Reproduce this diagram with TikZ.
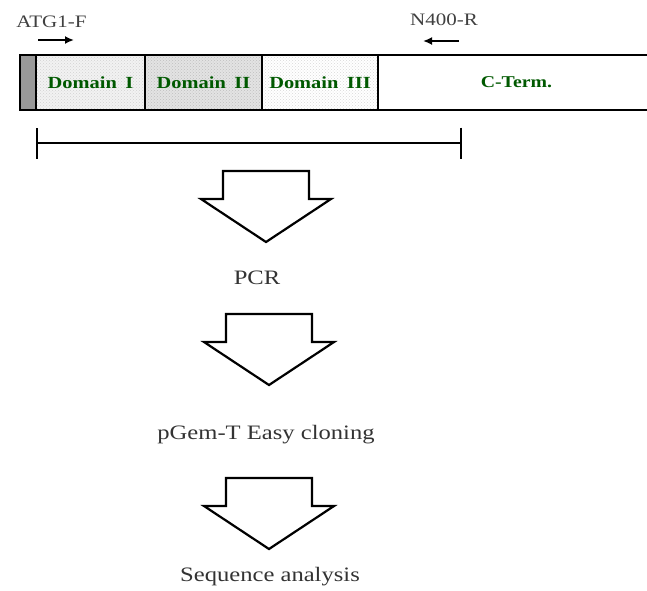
\documentclass[tikz,border=0pt]{standalone}
\usepackage{fontspec}
\setmainfont{Liberation Serif}[FakeStretch=1.2]
\usetikzlibrary{arrows.meta,patterns}

\tikzset{
    segment/.style={draw, line width=2.4pt, minimum height=55pt, inner sep=0pt,
        font=\bfseries\fontsize{17}{20}\selectfont, text=green!35!black},
    primer/.style={font=\fontsize{17.5}{20}\selectfont, text=black!75},
    primerarrow/.style={line width=2.2pt, -{Latex[length=9pt,width=8pt]}},
    step label/.style={font=\fontsize{20.5}{24}\selectfont, text=black!80},
    pics/blockarrow/.style={code={
        \draw[line width=2.2pt, fill=white] (-43,0) -- (43,0) -- (43,28) -- (65,28)
            -- (0,71) -- (-65,28) -- (-43,28) -- cycle;
    }}
}

\begin{document}
\begin{tikzpicture}[x=1pt, y=-1pt]
    \useasboundingbox (0,0) rectangle (647,590);
    % Gene bar with its domains
    \node[segment, minimum width=16pt, fill=gray!80] (lead) at (28,82.5) {};
    \node[segment, minimum width=109pt, preaction={fill=gray!10}, pattern=crosshatch dots, pattern color=gray!35] (dom1) at (90.5,82.5) {Domain\enspace I};
    \node[segment, minimum width=117pt, preaction={fill=gray!22}, pattern=crosshatch dots, pattern color=gray!50] (dom2) at (203.5,82.5) {Domain\enspace II};
    \node[segment, minimum width=116pt, preaction={fill=white}, pattern=crosshatch dots, pattern color=gray!30] (dom3) at (320,82.5) {Domain\enspace III};
    \node[segment, minimum width=277pt, fill=white, font=\bfseries\fontsize{16.5}{20}\selectfont] (cterm) at (516.5,82.5) {C-Term.};

    % Primers
    \node[primer] (fwd) at (51.5,22) {ATG1-F};
    \node[primer] (rev) at (444,20) {N400-R};
    \coordinate (fwdtail) at (38,40);
    \coordinate (fwdhead) at (74,40);
    \coordinate (revtail) at (459,41);
    \coordinate (revhead) at (423,41);
    \draw[primerarrow] (fwdtail) -- (fwdhead);
    \draw[primerarrow] (revtail) -- (revhead);

    % Amplified region
    \coordinate (ampstart) at (36,143);
    \coordinate (ampend) at (462,143);
    \draw[line width=2.2pt, {Bar[width=31pt]}-{Bar[width=31pt]}] (ampstart) -- (ampend);

    % Workflow
    \pic (arrowpcr) at (266,171) {blockarrow};
    \node[step label] (pcr) at (257,278) {PCR};
    \pic (arrowclone) at (269,314) {blockarrow};
    \node[step label] (cloning) at (266,435) {pGem-T Easy cloning};
    \pic (arrowseq) at (269,478) {blockarrow};
    \node[step label] (seq) at (270,577) {Sequence analysis};
\end{tikzpicture}
\end{document}
